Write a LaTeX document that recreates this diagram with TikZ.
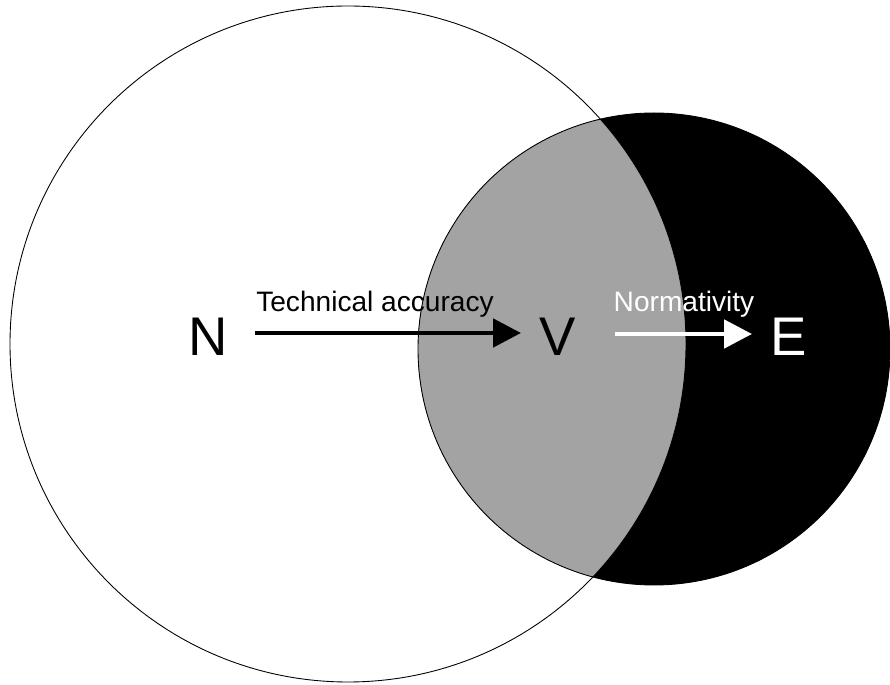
\documentclass[tikz,border=0pt]{standalone}
\usepackage{fontspec}
\setmainfont{Liberation Sans}
\usetikzlibrary{arrows.meta}
\definecolor{venngray}{HTML}{A3A3A3}
\tikzset{
    letter/.style={font=\fontsize{31}{31}\selectfont, inner sep=0pt},
    flow label/.style={font=\fontsize{16}{16}\selectfont, inner sep=1pt},
    flow arrow/.style={line width=2.8pt, -{Triangle[length=0.56cm, width=0.56cm]}}
}
\begin{document}
\begin{tikzpicture}[x=0.02cm, y=-0.02cm]
\useasboundingbox (0,0) rectangle (890,685);

% the two sets
\fill[black] (654,349) circle (236);
\begin{scope}
    \clip (654,349) circle (236);
    \fill[venngray] (348,344) circle (338);
\end{scope}
\draw[line width=0.5pt] (348,344) circle (338);
\draw[line width=0.5pt] (654,349) circle (236);

\node[letter] (N) at (208,337) {N};
\node[letter] (V) at (558,337) {V};
\node[letter, text=white] (E) at (789,337) {E};

\draw[flow arrow, shorten <=0.94cm, shorten >=0.74cm] ([yshift=0.08cm]N.center) -- node[flow label, above=0.22cm, xshift=-0.16cm] {Technical accuracy} ([yshift=0.08cm]V.center);
\draw[flow arrow, white, shorten <=1.14cm, shorten >=0.74cm] ([yshift=0.06cm]V.center) -- node[flow label, text=white, above=0.24cm, xshift=0.21cm] {Normativity} ([yshift=0.06cm]E.center);
\end{tikzpicture}
\end{document}
